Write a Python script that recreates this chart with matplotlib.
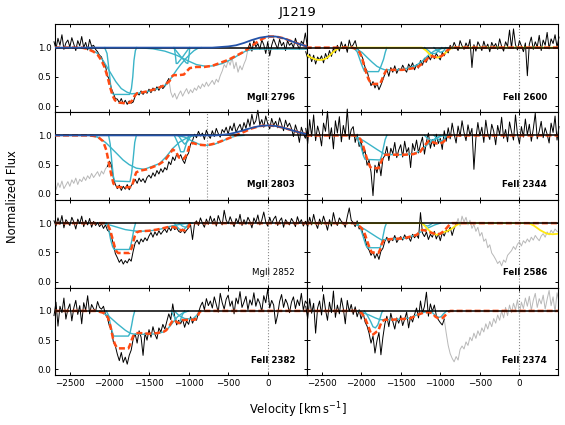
import numpy as np
import matplotlib
matplotlib.use("Agg")
import matplotlib.pyplot as plt

# spectra are sampled on a 25 km/s velocity grid
vel = np.arange(-2700, 501, 25)

# normalized flux, one row = 200 km/s
mg2796_flux = [
    1.10, 0.98, 1.16, 1.04, 1.22, 0.97, 1.08, 1.13,
    1.01, 1.17, 1.06, 0.95, 1.12, 1.03, 1.19, 1.00,
    1.09, 0.96, 1.14, 1.02, 1.04, 0.97, 0.93, 0.87,
    0.84, 0.74, 0.69, 0.52, 0.45, 0.30, 0.22, 0.13,
    0.12, 0.06, 0.13, 0.04, 0.10, 0.03, 0.09, 0.05,
    0.07, 0.17, 0.23, 0.19, 0.26, 0.20, 0.25, 0.22,
    0.29, 0.23, 0.31, 0.26, 0.33, 0.27, 0.35, 0.30,
    0.34, 0.41, 0.47, 0.24, 0.15, 0.22, 0.12, 0.20,
    0.26, 0.17, 0.24, 0.30, 0.21, 0.28, 0.23, 0.31,
    0.27, 0.35, 0.30, 0.38, 0.33, 0.41, 0.34, 0.39,
    0.44, 0.37, 0.46, 0.41, 0.52, 0.60, 0.71, 0.66,
    0.78, 0.70, 0.83, 0.64, 0.75, 0.58, 0.69, 0.62,
    0.72, 0.80, 0.98, 1.08, 0.94, 1.12, 1.01, 1.07,
    0.97, 1.13, 1.05, 0.90, 1.10, 0.86, 1.04, 1.15,
    1.06, 0.98, 1.14, 1.03, 1.09, 0.95, 1.12, 1.04,
    1.08, 1.00, 1.16, 1.05, 0.97, 1.11, 1.06, 1.25,
    1.02]
mg2803_flux = [
    0.16, 0.07, 0.19, 0.11, 0.22, 0.09, 0.15, 0.21,
    0.13, 0.24, 0.18, 0.27, 0.16, 0.25, 0.21, 0.29,
    0.23, 0.31, 0.26, 0.35, 0.28, 0.33, 0.38, 0.30,
    0.39, 0.34, 0.43, 0.47, 0.56, 0.50, 0.27, 0.16,
    0.09, 0.15, 0.06, 0.13, 0.08, 0.16, 0.07, 0.14,
    0.19, 0.25, 0.18, 0.27, 0.21, 0.26, 0.19, 0.28,
    0.32, 0.27, 0.36, 0.30, 0.40, 0.34, 0.43, 0.37,
    0.45, 0.41, 0.55, 0.50, 0.63, 0.57, 0.68, 0.62,
    0.67, 0.58, 0.52, 0.64, 0.70, 0.85, 0.91, 1.02,
    0.96, 1.07, 0.99, 1.04, 0.93, 1.09, 1.00, 0.95,
    1.08, 0.98, 1.12, 1.03, 0.97, 1.10, 1.05, 1.14,
    1.02, 1.16, 1.08, 1.21, 1.05, 1.13, 1.19, 1.07,
    1.22, 1.12, 1.28, 1.15, 1.36, 1.19, 1.25, 1.43,
    1.18, 1.27, 1.14, 1.33, 1.20, 1.11, 1.29, 1.17,
    1.24, 1.13, 1.30, 1.19, 1.08, 1.26, 1.15, 1.21,
    1.12, 0.98, 1.18, 1.07, 0.88, 1.14, 1.03, 0.95,
    1.10]
mg2852_flux = [
    1.04, 0.95, 1.09, 0.98, 1.13, 0.92, 1.06, 1.01,
    0.96, 1.10, 1.02, 0.90, 1.07, 0.99, 1.12, 0.94,
    1.05, 0.97, 1.08, 0.93, 1.03, 0.96, 1.01, 0.94,
    0.99, 0.91, 0.97, 0.88, 0.85, 0.77, 0.64, 0.48,
    0.41, 0.33, 0.38, 0.30, 0.36, 0.32, 0.39, 0.35,
    0.52, 0.66, 0.71, 0.64, 0.73, 0.68, 0.75, 0.70,
    0.78, 0.84, 0.76, 0.85, 0.79, 0.87, 0.81, 0.86,
    0.90, 0.84, 0.93, 0.87, 0.95, 0.89, 0.92, 0.86,
    0.84, 0.90, 0.83, 0.88, 0.92, 0.97, 0.72, 0.99,
    1.04, 0.96, 1.09, 1.00, 0.93, 1.07, 0.98, 1.12,
    1.01, 1.08, 0.95, 1.13, 1.03, 0.97, 1.22, 1.05,
    0.99, 1.11, 1.02, 0.94, 1.08, 1.00, 1.15, 0.96,
    1.06, 0.98, 1.10, 1.03, 0.92, 1.09, 1.01, 1.14,
    0.97, 1.05, 1.19, 1.02, 0.95, 1.10, 0.99, 1.07,
    1.12, 0.96, 1.04, 1.09, 0.93, 1.06, 1.01, 0.97,
    1.08, 1.02, 0.94, 1.11, 1.00, 1.06, 0.95, 1.03,
    0.99]
fe2382_flux = [
    0.92, 1.15, 0.74, 1.08, 0.97, 1.22, 0.86, 1.03,
    1.12, 0.83, 1.05, 1.18, 0.94, 1.09, 0.78, 1.14,
    1.01, 1.26, 0.95, 1.11, 1.04, 0.99, 1.16, 1.06,
    1.03, 1.08, 0.94, 0.88, 0.74, 0.68, 0.47, 0.40,
    0.26, 0.15, 0.29, 0.12, 0.21, 0.09, 0.24, 0.33,
    0.52, 0.61, 0.45, 0.66, 0.55, 0.24, 0.62, 0.50,
    0.68, 0.55, 0.73, 0.60, 0.52, 0.71, 0.64, 0.77,
    0.69, 0.82, 0.95, 0.85, 1.12, 0.90, 0.76, 0.84,
    0.78, 0.86, 0.72, 0.83, 0.77, 0.90, 0.79, 0.88,
    0.84, 0.97, 1.08, 1.15, 1.02, 1.21, 1.09, 1.17,
    1.05, 1.24, 1.11, 0.98, 1.30, 1.14, 1.03, 1.20,
    1.27, 1.08, 1.17, 0.95, 1.22, 1.12, 1.33, 1.06,
    1.15, 1.25, 1.02, 1.19, 1.10, 1.31, 1.08, 1.21,
    1.13, 0.99, 1.26, 1.14, 1.37, 1.05, 1.18, 1.10,
    0.78, 0.93, 1.16, 1.28, 1.06, 1.20, 1.12, 0.97,
    1.15, 1.24, 1.04, 1.19, 1.09, 1.30, 1.01, 1.17,
    1.12]
fe2600_flux = [
    0.93, 0.82, 0.89, 0.76, 0.87, 0.72, 0.84, 0.79,
    0.86, 0.74, 0.90, 0.81, 0.95, 0.85, 0.99, 0.91,
    1.04, 0.94, 1.10, 0.98, 1.06, 0.92, 1.13, 1.01,
    1.05, 1.12, 0.98, 0.95, 0.88, 0.80, 0.66, 0.60,
    0.47, 0.35, 0.42, 0.31, 0.39, 0.28, 0.36, 0.45,
    0.55, 0.63, 0.51, 0.66, 0.58, 0.69, 0.56, 0.64,
    0.61, 0.70, 0.63, 0.58, 0.72, 0.66, 0.74, 0.62,
    0.71, 0.65, 0.78, 0.70, 0.82, 0.75, 0.86, 0.79,
    0.88, 0.81, 0.90, 0.84, 0.79, 0.92, 0.86, 0.95,
    0.91, 1.04, 0.98, 1.09, 1.01, 0.95, 1.12, 1.03,
    0.97, 1.08, 1.00, 1.14, 0.66, 1.05, 0.94, 1.10,
    1.03, 0.95, 1.11, 0.99, 1.06, 0.93, 1.09, 1.01,
    1.07, 0.97, 1.15, 1.02, 0.94, 1.10, 1.02, 1.30,
    0.99, 1.32, 1.05, 0.96, 1.12, 1.03, 0.93, 1.08,
    0.52, 1.06, 1.18, 0.97, 1.10, 1.01, 1.21, 0.95,
    1.13, 1.04, 1.26, 0.98, 1.15, 1.07, 1.22, 1.01,
    1.18]
fe2344_flux = [
    1.12, 0.86, 1.27, 0.98, 1.35, 0.91, 1.16, 1.03,
    0.82, 1.21, 1.07, 1.41, 0.94, 1.13, 0.77, 1.25,
    1.04, 1.32, 0.89, 1.17, 1.00, 1.45, 0.93, 1.10,
    1.15, 0.88, 1.02, 0.81, 0.91, 0.68, 0.74, 0.49,
    0.58, 0.37, -0.03, 0.49, 0.36, 0.55, 0.31, 0.60,
    0.66, 0.81, 0.57, 0.78, 0.69, 0.88, 0.62, 0.75,
    0.84, 0.63, 0.90, 0.71, 0.79, 0.45, 0.86, 0.74,
    0.92, 0.70, 0.85, 0.97, 0.68, 0.89, 1.04, 0.78,
    0.93, 0.81, 1.02, 0.86, 0.95, 0.76, 1.08, 0.90,
    1.13, 0.94, 1.21, 1.02, 0.87, 1.16, 0.98, 1.25,
    1.05, 0.91, 1.18, 1.00, 1.12, 0.42, 0.95, 1.22,
    0.99, 1.14, 0.88, 1.26, 1.03, 0.93, 1.19, 1.07,
    0.84, 1.17, 1.01, 1.31, 0.95, 1.10, 0.89, 1.23,
    1.06, 0.92, 1.35, 1.02, 0.86, 1.15, 0.97, 1.28,
    1.01, 1.19, 0.90, 1.11, 1.38, 0.94, 1.07, 1.24,
    0.96, 1.13, 1.02, 0.87, 1.21, 1.05, 1.33, 0.92,
    1.15]
fe2586_flux = [
    1.03, 0.94, 1.10, 0.97, 1.15, 1.00, 0.91, 1.07,
    0.98, 1.12, 1.01, 0.88, 1.06, 0.95, 1.18, 1.02,
    0.96, 1.09, 1.03, 1.00, 0.93, 1.11, 1.26, 1.05,
    1.01, 0.94, 1.04, 0.90, 0.93, 0.81, 0.74, 0.59,
    0.54, 0.45, 0.51, 0.40, 0.48, 0.38, 0.52, 0.57,
    0.69, 0.76, 0.66, 0.74, 0.70, 0.79, 0.67, 0.73,
    0.77, 0.71, 0.80, 0.73, 0.76, 0.69, 0.81, 0.75,
    0.80, 0.74, 1.18, 0.83, 0.77, 0.85, 0.72, 0.81,
    0.76, 0.86, 0.73, 0.82, 0.70, 0.84, 0.78, 0.88,
    0.85, 0.93, 0.79, 0.91, 0.98, 1.08, 0.95, 1.12,
    1.02, 1.10, 0.97, 1.05, 0.91, 0.98, 0.86, 0.93,
    0.78, 0.84, 0.69, 0.73, 0.58, 0.63, 0.49, 0.44,
    0.38, 0.31, 0.35, 0.27, 0.37, 0.33, 0.45, 0.49,
    0.53, 0.60, 0.55, 0.64, 0.68, 0.61, 0.70, 0.66,
    0.73, 0.68, 0.76, 0.71, 0.79, 0.74, 0.70, 0.78,
    0.82, 0.76, 0.85, 0.80, 0.88, 0.83, 0.90, 0.86,
    0.84]
fe2374_flux = [
    1.08, 0.87, 1.21, 0.96, 1.13, 0.62, 1.05, 1.17,
    0.93, 1.28, 1.02, 0.84, 1.15, 0.97, 1.34, 0.89,
    1.10, 0.95, 1.22, 1.04, 0.78, 1.18, 0.99, 1.11,
    0.94, 1.07, 0.90, 1.02, 0.86, 0.97, 0.81, 0.74,
    0.62, 0.45, 0.57, 0.28, 0.49, 0.63, 0.25, 0.55,
    0.78, 0.91, 0.73, 0.96, 0.82, 0.69, 0.88, 0.79,
    0.92, 0.75, 0.86, 0.98, 0.71, 0.90, 0.81, 0.94,
    1.05, 0.88, 1.17, 0.96, 1.08, 1.32, 0.91, 1.12,
    0.99, 1.10, 0.92, 0.85, 0.80, 0.76, 0.86, 0.62,
    0.41, 0.27, 0.19, 0.13, 0.22, 0.16, 0.34, 0.40,
    0.35, 0.47, 0.41, 0.55, 0.49, 0.62, 0.53, 0.66,
    0.58, 0.71, 0.64, 0.78, 0.69, 0.82, 0.73, 0.87,
    0.79, 0.93, 0.84, 1.00, 0.88, 1.06, 0.92, 1.10,
    0.97, 1.13, 1.02, 1.19, 0.95, 1.15, 1.04, 1.22,
    1.08, 1.25, 1.01, 1.18, 1.30, 1.06, 1.21, 1.12,
    1.27, 1.03, 1.20, 1.35, 1.09, 1.24, 0.98, 1.31,
    1.16]

# velocity ranges blended with another transition (drawn grey)
mg2796_blend = (-1250, -250)
mg2803_blend = (-2700, -2025)
fe2586_blend = (-800, 500)
fe2374_blend = (-950, 500)

# fitted models, (velocity, flux) pairs
mg2796_fit = [(-2700, 1.0), (-2350, 1.0), (-2280, 0.98), (-2200, 0.93), (-2150, 0.88), (-2100, 0.78),
              (-2060, 0.66), (-2020, 0.48), (-1990, 0.32), (-1960, 0.18), (-1930, 0.10), (-1880, 0.06),
              (-1800, 0.05), (-1740, 0.06), (-1710, 0.10), (-1680, 0.18), (-1650, 0.22), (-1600, 0.23),
              (-1500, 0.26), (-1400, 0.30), (-1300, 0.36), (-1240, 0.43), (-1215, 0.50), (-1190, 0.53),
              (-1120, 0.53), (-1060, 0.54), (-1020, 0.60), (-985, 0.65), (-900, 0.67), (-800, 0.67),
              (-700, 0.69), (-600, 0.74), (-500, 0.79), (-400, 0.86), (-300, 0.93), (-200, 1.03),
              (-100, 1.13), (0, 1.19), (100, 1.19), (200, 1.16), (300, 1.11), (400, 1.06), (500, 1.02)]
mg2796_comps = [
    [(-2350, 1.0), (-2250, 0.98), (-2150, 0.90), (-2080, 0.78), (-2000, 0.60), (-1920, 0.42),
     (-1850, 0.30), (-1780, 0.24), (-1720, 0.21), (-1650, 0.22), (-1550, 0.24), (-1450, 0.27),
     (-1350, 0.32), (-1280, 0.37), (-1240, 0.44), (-1200, 0.52), (-1150, 0.62), (-1100, 0.71),
     (-1030, 0.82), (-980, 0.89), (-930, 0.95), (-880, 0.99), (-840, 1.0)],
    [(-2060, 1.0), (-2030, 0.90), (-2005, 0.62), (-1985, 0.36), (-1965, 0.22), (-1945, 0.20),
     (-1745, 0.20), (-1722, 0.30), (-1705, 0.50), (-1690, 0.78), (-1672, 0.95), (-1655, 1.0)],
    [(-1190, 1.0), (-1100, 0.85), (-1030, 0.74), (-1010, 0.73), (-995, 0.85), (-985, 1.0)],
    [(-1180, 1.0), (-1165, 0.85), (-1156, 0.73), (-1140, 0.73), (-1070, 0.85), (-990, 1.0)],
    [(-1650, 1.0), (-1450, 0.98), (-1300, 0.94), (-1150, 0.87), (-1000, 0.77), (-900, 0.71),
     (-780, 0.68), (-680, 0.69), (-570, 0.73), (-460, 0.80), (-360, 0.88), (-280, 0.94),
     (-200, 0.97), (-100, 0.975), (500, 0.975)]]
mg2803_fit = [(-2700, 1.0), (-2250, 1.0), (-2150, 0.98), (-2080, 0.90), (-2040, 0.75), (-2010, 0.55),
              (-1980, 0.35), (-1950, 0.18), (-1920, 0.12), (-1800, 0.11), (-1720, 0.12), (-1700, 0.20),
              (-1680, 0.30), (-1660, 0.37), (-1600, 0.40), (-1530, 0.42), (-1450, 0.46), (-1380, 0.50),
              (-1300, 0.57), (-1240, 0.68), (-1200, 0.76), (-1160, 0.72), (-1120, 0.62), (-1060, 0.60),
              (-1020, 0.68), (-990, 0.82), (-950, 0.87), (-870, 0.84), (-770, 0.83), (-670, 0.86),
              (-550, 0.92), (-440, 0.98), (-300, 1.06), (-200, 1.12), (-100, 1.16), (0, 1.17),
              (100, 1.16), (200, 1.13), (300, 1.09), (400, 1.05), (500, 1.02)]
mg2803_comps = [
    [(-2010, 1.0), (-1990, 0.85), (-1970, 0.55), (-1950, 0.30), (-1935, 0.22), (-1740, 0.21),
     (-1720, 0.35), (-1700, 0.60), (-1680, 0.88), (-1660, 1.0)],
    [(-2250, 1.0), (-2150, 0.97), (-2050, 0.88), (-1996, 0.81), (-1900, 0.68), (-1828, 0.58),
     (-1750, 0.50), (-1660, 0.44), (-1560, 0.42), (-1460, 0.47), (-1366, 0.52), (-1280, 0.64),
     (-1198, 0.78), (-1110, 0.89), (-1030, 0.95), (-950, 0.99), (-900, 1.0)],
    [(-1180, 1.0), (-1130, 0.85), (-1100, 0.72), (-1060, 0.72), (-1030, 0.85), (-1000, 1.0)],
    [(-1130, 1.0), (-1080, 0.90), (-1050, 0.85), (-1010, 0.90), (-970, 1.0)],
    [(-1150, 1.0), (-1050, 0.97), (-950, 0.90), (-870, 0.85), (-770, 0.83), (-670, 0.85),
     (-580, 0.90), (-480, 0.96), (-400, 0.99), (-300, 1.0)]]
mg2796_emis = [(-2700, 1.0), (-700, 1.0), (-500, 1.02), (-400, 1.04), (-300, 1.08), (-200, 1.13),
               (-100, 1.17), (0, 1.19), (100, 1.19), (200, 1.16), (300, 1.11), (400, 1.06), (500, 1.02)]
mg2803_emis = [(-2700, 1.0), (-650, 1.0), (-500, 1.02), (-400, 1.05), (-300, 1.09), (-200, 1.13),
               (-100, 1.16), (0, 1.17), (100, 1.16), (200, 1.13), (300, 1.09), (400, 1.05), (500, 1.02)]
mg2852_fit = [(-2700, 1.0), (-2060, 1.0), (-2020, 0.97), (-1990, 0.88), (-1970, 0.78), (-1954, 0.70),
              (-1930, 0.58), (-1912, 0.52), (-1890, 0.49), (-1750, 0.49), (-1720, 0.57), (-1700, 0.67),
              (-1680, 0.78), (-1660, 0.84), (-1620, 0.86), (-1500, 0.87), (-1400, 0.89), (-1300, 0.92),
              (-1240, 0.94), (-1170, 0.93), (-1140, 0.90), (-1100, 0.88), (-1040, 0.88), (-1010, 0.92),
              (-985, 0.99), (-950, 1.0), (500, 1.0)]
mg2852_comps = [
    [(-2040, 1.0), (-2010, 0.90), (-1985, 0.72), (-1960, 0.60), (-1940, 0.55), (-1750, 0.55),
     (-1730, 0.62), (-1710, 0.75), (-1690, 0.90), (-1670, 1.0)],
    [(-2100, 1.0), (-2000, 0.97), (-1900, 0.93), (-1800, 0.89), (-1700, 0.87), (-1620, 0.86),
     (-1550, 0.865), (-1450, 0.875), (-1350, 0.90), (-1250, 0.94), (-1150, 0.97), (-1050, 0.99),
     (-950, 1.0)],
    [(-1180, 1.0), (-1140, 0.93), (-1110, 0.89), (-1060, 0.89), (-1030, 0.93), (-990, 1.0)],
    [(-1120, 1.0), (-1080, 0.95), (-1040, 0.93), (-1000, 0.96), (-970, 1.0)]]
fe2382_fit = [(-2700, 1.0), (-2170, 1.0), (-2080, 0.97), (-2040, 0.93), (-2017, 0.88), (-1995, 0.78),
              (-1975, 0.66), (-1955, 0.53), (-1933, 0.44), (-1910, 0.38), (-1890, 0.36), (-1760, 0.36),
              (-1740, 0.42), (-1720, 0.50), (-1700, 0.57), (-1660, 0.62), (-1600, 0.62), (-1500, 0.61),
              (-1400, 0.62), (-1320, 0.64), (-1282, 0.67), (-1240, 0.75), (-1200, 0.84), (-1175, 0.84),
              (-1150, 0.81), (-1120, 0.79), (-1100, 0.80), (-1080, 0.84), (-1000, 0.85), (-920, 0.85),
              (-890, 0.90), (-861, 0.98), (-840, 1.0), (500, 1.0)]
fe2382_comps = [
    [(-2040, 1.0), (-2010, 0.92), (-1985, 0.75), (-1960, 0.62), (-1945, 0.57), (-1760, 0.57),
     (-1740, 0.62), (-1720, 0.75), (-1700, 0.90), (-1680, 1.0)],
    [(-2170, 1.0), (-2100, 0.98), (-2000, 0.90), (-1900, 0.78), (-1800, 0.67), (-1740, 0.62),
     (-1680, 0.60), (-1600, 0.60), (-1500, 0.60), (-1400, 0.61), (-1320, 0.64), (-1260, 0.70),
     (-1200, 0.80), (-1140, 0.90), (-1080, 0.96), (-1000, 1.0)],
    [(-1220, 1.0), (-1180, 0.90), (-1140, 0.80), (-1110, 0.82), (-1080, 0.93), (-1050, 1.0)],
    [(-1180, 1.0), (-1120, 0.92), (-1050, 0.87), (-950, 0.86), (-900, 0.92), (-860, 1.0)]]
fe2600_fit = [(-2700, 1.0), (-2120, 1.0), (-2060, 0.98), (-2020, 0.92), (-1991, 0.83), (-1970, 0.73),
              (-1949, 0.63), (-1928, 0.54), (-1907, 0.46), (-1880, 0.40), (-1860, 0.38), (-1760, 0.38),
              (-1738, 0.45), (-1717, 0.52), (-1696, 0.58), (-1675, 0.62), (-1600, 0.62), (-1480, 0.62),
              (-1380, 0.64), (-1296, 0.66), (-1211, 0.74), (-1150, 0.83), (-1127, 0.86), (-1100, 0.85),
              (-1060, 0.84), (-1020, 0.84), (-980, 0.86), (-959, 0.88), (-930, 0.93), (-896, 0.97),
              (-870, 1.0), (500, 1.0)]
fe2600_comps = [
    [(-2100, 1.0), (-2050, 0.93), (-1991, 0.70), (-1960, 0.60), (-1945, 0.59), (-1780, 0.59),
     (-1750, 0.68), (-1717, 0.80), (-1695, 0.92), (-1675, 1.0)],
    [(-2110, 1.0), (-2050, 0.97), (-1990, 0.92), (-1930, 0.84), (-1860, 0.75), (-1800, 0.68),
     (-1740, 0.64), (-1700, 0.62), (-1600, 0.62), (-1480, 0.63), (-1380, 0.66), (-1300, 0.70),
     (-1220, 0.78), (-1150, 0.87), (-1080, 0.94), (-1000, 0.98), (-900, 1.0)],
    [(-1200, 1.0), (-1150, 0.95), (-1110, 0.90), (-1060, 0.90), (-1020, 0.95), (-980, 1.0)],
    [(-1080, 1.0), (-1040, 0.95), (-1000, 0.92), (-960, 0.94), (-930, 1.0)]]
fe2600_other = [(-2700, 0.89), (-2650, 0.84), (-2600, 0.81), (-2550, 0.79), (-2500, 0.79), (-2450, 0.81),
                (-2400, 0.86), (-2350, 0.93), (-2300, 0.98), (-2250, 1.0), (-1230, 1.0), (-1180, 0.95),
                (-1130, 0.88), (-1080, 0.84), (-1040, 0.83), (-1000, 0.84), (-960, 0.88), (-910, 0.94),
                (-860, 0.99), (-830, 1.0), (500, 1.0)]
fe2344_fit = [(-2700, 1.0), (-2090, 1.0), (-2050, 0.98), (-2011, 0.94), (-1990, 0.88), (-1970, 0.80),
              (-1949, 0.70), (-1928, 0.61), (-1905, 0.52), (-1885, 0.46), (-1865, 0.44), (-1780, 0.44),
              (-1760, 0.50), (-1738, 0.58), (-1717, 0.63), (-1696, 0.67), (-1600, 0.67), (-1450, 0.67),
              (-1340, 0.68), (-1254, 0.72), (-1200, 0.82), (-1169, 0.87), (-1140, 0.91), (-1120, 0.91),
              (-1090, 0.88), (-1040, 0.86), (-1000, 0.86), (-959, 0.89), (-930, 0.94), (-896, 0.98),
              (-870, 1.0), (500, 1.0)]
fe2344_comps = [
    [(-2080, 1.0), (-2040, 0.93), (-2000, 0.80), (-1970, 0.65), (-1950, 0.59), (-1760, 0.58),
     (-1740, 0.65), (-1717, 0.80), (-1696, 0.93), (-1675, 1.0)],
    [(-2110, 1.0), (-2050, 0.97), (-1970, 0.91), (-1890, 0.84), (-1800, 0.76), (-1740, 0.71),
     (-1700, 0.68), (-1600, 0.67), (-1450, 0.67), (-1340, 0.69), (-1260, 0.73), (-1200, 0.80),
     (-1130, 0.88), (-1060, 0.95), (-980, 0.99), (-900, 1.0)],
    [(-1200, 1.0), (-1160, 0.95), (-1120, 0.92), (-1080, 0.92), (-1040, 0.95), (-1000, 1.0)],
    [(-1080, 1.0), (-1040, 0.95), (-1000, 0.90), (-960, 0.92), (-920, 1.0)]]
fe2586_fit = [(-2700, 1.0), (-2080, 1.0), (-2040, 0.97), (-1991, 0.91), (-1970, 0.86), (-1949, 0.80),
              (-1928, 0.71), (-1907, 0.63), (-1885, 0.55), (-1865, 0.50), (-1780, 0.49), (-1760, 0.55),
              (-1738, 0.65), (-1717, 0.70), (-1696, 0.72), (-1600, 0.73), (-1460, 0.74), (-1380, 0.77),
              (-1296, 0.80), (-1275, 0.83), (-1232, 0.88), (-1200, 0.88), (-1169, 0.86), (-1100, 0.83),
              (-1043, 0.81), (-1000, 0.82), (-959, 0.86), (-917, 0.92), (-880, 0.98), (-850, 1.0),
              (500, 1.0)]
fe2586_comps = [
    [(-2050, 1.0), (-2010, 0.92), (-1970, 0.75), (-1940, 0.62), (-1920, 0.58), (-1760, 0.58),
     (-1740, 0.66), (-1720, 0.80), (-1700, 0.93), (-1680, 1.0)],
    [(-2110, 1.0), (-2040, 0.96), (-1960, 0.90), (-1880, 0.83), (-1800, 0.76), (-1738, 0.71),
     (-1696, 0.72), (-1600, 0.73), (-1460, 0.74), (-1380, 0.77), (-1300, 0.81), (-1230, 0.86),
     (-1150, 0.92), (-1070, 0.97), (-1000, 1.0)],
    [(-1230, 1.0), (-1190, 0.96), (-1160, 0.95), (-1130, 0.97), (-1100, 1.0)]]
fe2586_other = [(-2700, 1.0), (-1232, 1.0), (-1200, 0.96), (-1169, 0.91), (-1120, 0.85), (-1070, 0.81),
                (-1043, 0.80), (-1000, 0.82), (-950, 0.85), (-917, 0.86), (-860, 0.90), (-791, 0.97),
                (-740, 1.0), (120, 1.0), (180, 0.96), (262, 0.88), (345, 0.82), (420, 0.81), (500, 0.82)]
fe2374_fit = [(-2700, 1.0), (-2060, 1.0), (-2011, 0.98), (-1991, 0.96), (-1949, 0.87), (-1907, 0.73),
              (-1880, 0.63), (-1865, 0.59), (-1845, 0.60), (-1800, 0.65), (-1780, 0.67), (-1760, 0.75),
              (-1738, 0.82), (-1700, 0.85), (-1600, 0.85), (-1500, 0.86), (-1380, 0.87), (-1296, 0.93),
              (-1211, 0.97), (-1150, 0.98), (-1100, 0.96), (-1060, 0.90), (-1020, 0.87), (-1001, 0.87),
              (-970, 0.88), (-940, 0.92), (-896, 0.99), (-870, 1.0), (500, 1.0)]
fe2374_comps = [
    [(-1960, 1.0), (-1920, 0.92), (-1880, 0.82), (-1850, 0.73), (-1820, 0.71), (-1790, 0.76),
     (-1760, 0.88), (-1740, 0.97), (-1725, 1.0)],
    [(-2050, 1.0), (-1980, 0.97), (-1900, 0.93), (-1820, 0.88), (-1760, 0.85), (-1700, 0.85),
     (-1600, 0.85), (-1500, 0.86), (-1380, 0.88), (-1300, 0.93), (-1200, 0.98), (-1100, 1.0)],
    [(-1150, 1.0), (-1100, 0.97), (-1060, 0.92), (-1020, 0.89), (-990, 0.90), (-960, 0.95),
     (-920, 1.0)]]

# MgII 2796 seen in the MgII 2803 frame
mg2796_in_2803 = -769


def curve(pts):
    a = np.array(pts, dtype=float)
    return a[:, 0], a[:, 1]


panels = [
    dict(pos=(0, 0), name="MgII 2796", flux=mg2796_flux, blend=mg2796_blend, fit=mg2796_fit,
         comps=mg2796_comps, emis=mg2796_emis),
    dict(pos=(1, 0), name="MgII 2803", flux=mg2803_flux, blend=mg2803_blend, fit=mg2803_fit,
         comps=mg2803_comps, emis=mg2803_emis, extra_line=mg2796_in_2803),
    dict(pos=(2, 0), name="MgII 2852", flux=mg2852_flux, fit=mg2852_fit, comps=mg2852_comps,
         weight="normal"),
    dict(pos=(3, 0), name="FeII 2382", flux=fe2382_flux, fit=fe2382_fit, comps=fe2382_comps),
    dict(pos=(0, 1), name="FeII 2600", flux=fe2600_flux, fit=fe2600_fit, comps=fe2600_comps,
         other=fe2600_other),
    dict(pos=(1, 1), name="FeII 2344", flux=fe2344_flux, fit=fe2344_fit, comps=fe2344_comps),
    dict(pos=(2, 1), name="FeII 2586", flux=fe2586_flux, blend=fe2586_blend, fit=fe2586_fit,
         comps=fe2586_comps, other=fe2586_other),
    dict(pos=(3, 1), name="FeII 2374", flux=fe2374_flux, blend=fe2374_blend, fit=fe2374_fit,
         comps=fe2374_comps),
]

fig, axes = plt.subplots(4, 2, figsize=(5.65, 4.25), dpi=100, sharex=True, sharey=True)
fig.subplots_adjust(left=0.097, right=0.988, top=0.943, bottom=0.117, hspace=0, wspace=0)

for p in panels:
    ax = axes[p["pos"]]
    flux = np.array(p["flux"], dtype=float)
    if "blend" in p:
        lo, hi = p["blend"]
        ax.plot(vel, np.where((vel >= lo) & (vel <= hi), flux, np.nan),
                color="#b8b8b8", lw=0.7, zorder=1)
        flux = np.where((vel > lo) & (vel < hi), np.nan, flux)
    ax.plot(vel, flux, color="k", lw=0.7, zorder=2, clip_on=False)

    ax.axvline(0, color="#8a8a8a", ls=":", lw=0.8, zorder=0.5)
    if "extra_line" in p:
        ax.axvline(p["extra_line"], color="#8a8a8a", ls=":", lw=0.8, zorder=0.5)

    for c in p["comps"]:
        ax.plot(*curve(c), color="#3ab4c8", lw=1.0, zorder=4)
    if "other" in p:
        ax.plot(*curve(p["other"]), color="#ffe812", lw=1.3, zorder=4)
    ax.plot(*curve(p["fit"]), color="#ff4a12", lw=1.8, ls=(0, (2.4, 1.2)), zorder=4.5)
    # continuum drawn over the fit so the flat part only shows an orange rim
    ax.axhline(1.0, color="k", lw=1.1, zorder=4.6)
    if "emis" in p:
        ax.plot(*curve(p["emis"]), color="#2352a8", lw=1.3, zorder=4.7)

    ax.text(0.955, 0.17, p["name"], transform=ax.transAxes, ha="right", va="center",
            fontsize=6.2, fontweight=p.get("weight", "bold"), zorder=6)

    ax.set_xlim(-2690, 490)
    ax.set_ylim(-0.1, 1.4)
    ax.set_yticks([0.0, 0.5, 1.0])
    ax.set_xticks([-2500, -2000, -1500, -1000, -500, 0])
    ax.tick_params(direction="in", top=True, right=True, length=2.5, width=0.7,
                   labelsize=6.3, pad=2.5)
    for s in ax.spines.values():
        s.set_linewidth(0.8)

fig.text(0.526, 0.971, "J1219", ha="center", va="center", fontsize=9.5)
fig.text(0.022, 0.538, "Normalized Flux", rotation=90, ha="center", va="center", fontsize=8.3)
fig.text(0.528, 0.035, r"Velocity [$\mathrm{km\,s^{-1}}$]", ha="center", va="center", fontsize=8.3)

fig.savefig("out.png", dpi=100)
